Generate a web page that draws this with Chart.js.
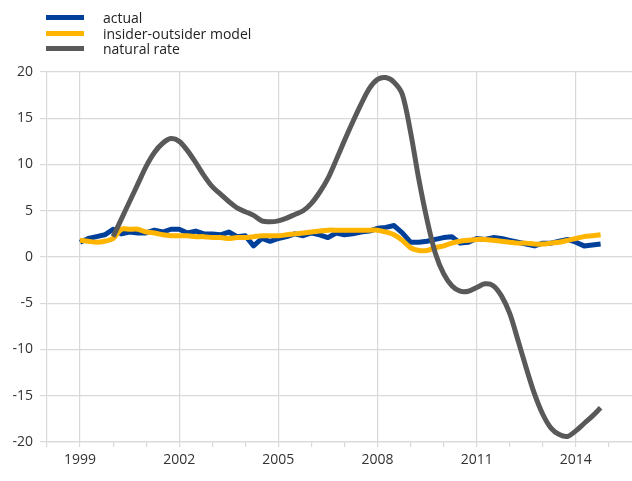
<!DOCTYPE html>
<html>
<head>
<meta charset="utf-8">
<script src="https://cdn.jsdelivr.net/npm/chart.js@4"></script>
<style>
    body { margin: 0; background: #fff; font-family: "Open Sans", sans-serif; }
    #wrap { position: relative; width: 632px; height: 481px; }
    #legend { position: absolute; left: 46px; top: 10px; font-size: 14px; color: #222; }
    .item { display: flex; align-items: center; height: 15.5px; }
    .sw { width: 38px; height: 5px; margin-right: 19px; }
</style>
</head>
<body>
<div id="wrap">
    <canvas id="chart" width="632" height="481"></canvas>
    <div id="legend"></div>
</div>
<script>
// quarterly data, 1999Q1 .. 2014Q4
const firstYear = 1999;
const yearLabels = [1999, 2002, 2005, 2008, 2011, 2014];
const seriesNames = ['actual', 'insider-outsider model', 'natural rate'];
const seriesColors = ['#003f9a', '#ffb400', '#595959'];

const actual = [
    1.6, 2.0, 2.2, 2.4,
    3.0, 2.5, 2.7, 2.6,
    2.6, 2.9, 2.7, 3.0,
    3.0, 2.6, 2.8, 2.5,
    2.5, 2.4, 2.7, 2.2,
    2.3, 1.2, 2.0, 1.7,
    2.0, 2.2, 2.5, 2.3,
    2.6, 2.4, 2.1, 2.6,
    2.4, 2.5, 2.7, 2.8,
    3.1, 3.2, 3.4, 2.6,
    1.6, 1.6, 1.7, 1.9,
    2.1, 2.2, 1.5, 1.6,
    2.0, 1.9, 2.1, 2.0,
    1.8, 1.6, 1.4, 1.2,
    1.5, 1.5, 1.7, 1.9,
    1.6, 1.2, 1.3, 1.4
];

const model = [
    1.8, 1.7, 1.6, 1.7,
    2.0, 3.0, 3.0, 3.0,
    2.7, 2.6, 2.4, 2.3,
    2.3, 2.3, 2.2, 2.2,
    2.1, 2.1, 2.0, 2.1,
    2.1, 2.2, 2.3, 2.3,
    2.3, 2.4, 2.5, 2.6,
    2.7, 2.8, 2.9, 2.9,
    2.9, 2.9, 2.9, 2.9,
    2.9, 2.7, 2.4, 1.8,
    1.0, 0.7, 0.7, 1.0,
    1.2, 1.5, 1.7, 1.8,
    1.9, 1.9, 1.8, 1.7,
    1.6, 1.5, 1.5, 1.4,
    1.4, 1.5, 1.6, 1.8,
    2.0, 2.2, 2.3, 2.4
];

const naturalRate = [
    null, null, null, null,
    2.2, 4.1, 6.0, 7.9,
    9.8, 11.3, 12.3, 12.8,
    12.5, 11.5, 10.2, 8.8,
    7.6, 6.8, 6.0, 5.3,
    4.9, 4.5, 3.9, 3.8,
    3.9, 4.2, 4.6, 5.0,
    5.8, 7.0, 8.5, 10.5,
    12.6, 14.6, 16.5, 18.2,
    19.2, 19.4, 18.9, 17.6,
    13.5, 8.4, 4.0, 0.4,
    -1.8, -3.1, -3.7, -3.7,
    -3.3, -2.9, -3.1, -4.2,
    -6.1, -9.0, -12.0, -14.8,
    -17.0, -18.5, -19.2, -19.4,
    -18.8, -18.0, -17.2, -16.3
];

const gridColor = '#d9d9d9';
const textColor = '#333';

function toPoints(values) {
    return values.map((v, i) => ({ x: firstYear + i / 4, y: v }));
}

const legendEl = document.getElementById('legend');
seriesNames.forEach((name, i) => {
    const row = document.createElement('div');
    row.className = 'item';
    row.innerHTML = '<span class="sw" style="background:' + seriesColors[i] + '"></span><span>' + name + '</span>';
    legendEl.appendChild(row);
});

new Chart(document.getElementById('chart'), {
    type: 'line',
    data: {
        datasets: [
            { label: seriesNames[0], data: toPoints(actual), borderColor: seriesColors[0], borderWidth: 5, tension: 0, order: 3 },
            { label: seriesNames[1], data: toPoints(model), borderColor: seriesColors[1], borderWidth: 5, tension: 0.3, order: 2 },
            { label: seriesNames[2], data: toPoints(naturalRate), borderColor: seriesColors[2], borderWidth: 5, tension: 0.3, order: 1 }
        ]
    },
    options: {
        responsive: false,
        animation: false,
        events: [],
        layout: { padding: { top: 72, right: 0, left: 0, bottom: 0 } },
        elements: {
            point: { radius: 0 },
            line: { borderJoinStyle: 'round', fill: false }
        },
        plugins: { legend: { display: false }, tooltip: { enabled: false } },
        scales: {
            x: {
                type: 'linear',
                min: 1998,
                max: 2015.7,
                afterFit: s => { s.height = 39; },
                ticks: {
                    stepSize: 1,
                    autoSkip: false,
                    includeBounds: false,
                    maxRotation: 0,
                    padding: 5,
                    color: textColor,
                    font: { family: 'Open Sans', size: 14 },
                    callback: v => yearLabels.includes(v) ? String(v) : ''
                },
                grid: {
                    color: c => yearLabels.includes(c.tick && c.tick.value) ? gridColor : 'rgba(0,0,0,0)',
                    tickColor: gridColor,
                    tickLength: 5,
                    lineWidth: 1.2
                },
                border: { color: gridColor, width: 1.2 }
            },
            y: {
                min: -20,
                max: 20,
                afterFit: s => { s.width = 47; },
                ticks: {
                    stepSize: 5,
                    padding: 7,
                    color: textColor,
                    font: { family: 'Open Sans', size: 14 }
                },
                grid: { color: gridColor, tickColor: gridColor, tickLength: 7, lineWidth: 1.2 },
                border: { color: gridColor, width: 1.2 }
            }
        }
    }
});
</script>
</body>
</html>
